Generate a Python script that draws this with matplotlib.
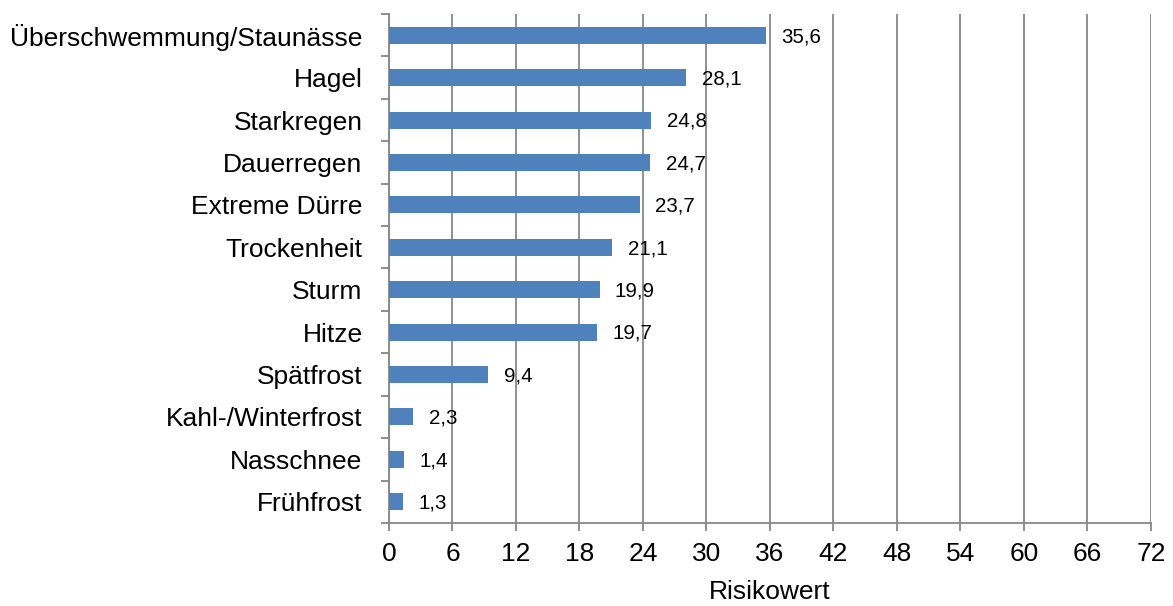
import numpy as np
import matplotlib.pyplot as plt
from matplotlib.ticker import FixedLocator

plt.rcParams['font.family'] = ['Liberation Sans', 'DejaVu Sans']

# Daten (von oben nach unten)
kategorien = ['Überschwemmung/Staunässe', 'Hagel', 'Starkregen', 'Dauerregen',
              'Extreme Dürre', 'Trockenheit', 'Sturm', 'Hitze', 'Spätfrost',
              'Kahl-/Winterfrost', 'Nasschnee', 'Frühfrost']
werte = [35.6, 28.1, 24.8, 24.7, 23.7, 21.1, 19.9, 19.7, 9.4, 2.3, 1.4, 1.3]
xticks = [0, 6, 12, 18, 24, 30, 36, 42, 48, 54, 60, 66, 72]

grau = '#878787'
blau = '#4F81BD'

fig = plt.figure(figsize=(11.73, 6.06), dpi=100)
ax = fig.add_axes([0.3316, 0.137, 0.6496, 0.8399])

n = len(kategorien)
y = np.arange(n)[::-1]
ax.barh(y, werte, height=0.4, color=blau, zorder=3)

for yi, w in zip(y, werte):
    ax.annotate(f'{w:.1f}'.replace('.', ','), (w, yi), xytext=(11, -1),
                textcoords='offset points', va='center', ha='left',
                fontsize=14.8, color='black')

ax.set_xlim(0, 72)
ax.set_ylim(-0.5, n - 0.5)
ax.set_xticks(xticks)
ax.set_xticklabels([str(t) for t in xticks], fontsize=19)
ax.set_yticks(y)
ax.set_yticklabels(kategorien, fontsize=19)
ax.yaxis.set_minor_locator(FixedLocator(np.arange(-0.5, n, 1.0)))

ax.tick_params(axis='y', which='major', length=0, pad=19)
ax.tick_params(axis='y', which='minor', length=6, width=1.3, color=grau)
ax.tick_params(axis='x', length=6, width=1.3, color=grau, pad=8)

ax.grid(axis='x', color=grau, linewidth=1.3, zorder=0)
for s in ['top', 'right']:
    ax.spines[s].set_visible(False)
for s in ['left', 'bottom']:
    ax.spines[s].set_color(grau)
    ax.spines[s].set_linewidth(1.3)

ax.set_xlabel('Risikowert', fontsize=19, labelpad=10)

fig.savefig('out.png', dpi=100)
